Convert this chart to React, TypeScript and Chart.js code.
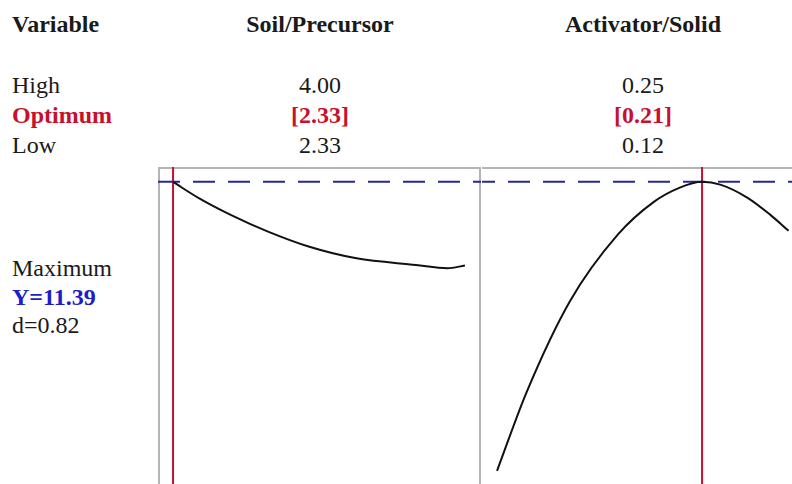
import React, { useEffect, useRef } from "react";
import { Chart, registerables } from "chart.js";

Chart.register(...registerables);

// Response optimizer: Soil/Precursor and Activator/Solid
const variables = ["Soil/Precursor", "Activator/Solid"];
const highLabels = ["4.00", "0.25"];
const optimumLabels = ["[2.33]", "[0.21]"];
const lowLabels = ["2.33", "0.12"];

const soilOptimum = 2.33;
const activatorOptimum = 0.21;
const maxResponse = 11.39;
const desirability = 0.82;

// predicted response along each factor, the other held at its optimum
const soilX = [2.33, 2.48, 2.66, 2.87, 3.11, 3.38, 3.72, 3.9, 4.0];
const soilY = [11.39, 11.09, 10.79, 10.49, 10.21, 10.0, 9.88, 9.82, 9.87];

const activatorX = [0.12, 0.133, 0.152, 0.173, 0.189, 0.2, 0.21, 0.218, 0.23, 0.24, 0.248];
const activatorY = [6.14, 7.57, 9.22, 10.43, 11.03, 11.28, 11.39, 11.34, 11.1, 10.79, 10.5];

// axis ranges of the two panels (shared response axis)
const soilRange = [2.244, 4.092];
const activatorRange = [0.1134, 0.2552];
const responseRange = [5.9, 11.66];

const RED = "#c8102e";
const BLUE = "#1c1cc8";
const INK = "#1a1a1a";

const panelGuides = {
  id: "panelGuides",
  beforeDatasetsDraw(chart: any, _args: any, opts: any) {
    const { ctx, chartArea } = chart;
    const xs = chart.scales.x;
    const ys = chart.scales.y;
    ctx.save();
    // frame
    ctx.strokeStyle = "#b4b4b4";
    ctx.lineWidth = 2;
    ctx.beginPath();
    if (opts.leftEdge) {
      ctx.moveTo(chartArea.left + 1, chartArea.bottom + 5);
      ctx.lineTo(chartArea.left + 1, chartArea.top + 1);
    } else {
      ctx.moveTo(chartArea.left, chartArea.top + 1);
    }
    ctx.lineTo(chartArea.right - 1, chartArea.top + 1);
    ctx.lineTo(chartArea.right - 1, chartArea.bottom + 5);
    ctx.stroke();
    // optimum setting
    const px = xs.getPixelForValue(opts.optimum);
    ctx.strokeStyle = RED;
    ctx.lineWidth = 2;
    ctx.beginPath();
    ctx.moveTo(px, chartArea.top);
    ctx.lineTo(px, chartArea.bottom);
    ctx.stroke();
    // optimal response
    const py = ys.getPixelForValue(opts.response);
    ctx.strokeStyle = "#27279b";
    ctx.lineWidth = 2;
    ctx.setLineDash([22, 13]);
    ctx.lineDashOffset = opts.dashOffset || 0;
    ctx.beginPath();
    ctx.moveTo(chartArea.left, py);
    ctx.lineTo(chartArea.right, py);
    ctx.stroke();
    ctx.restore();
  },
};

function Panel(props: {
  xs: number[];
  ys: number[];
  range: number[];
  optimum: number;
  dashOffset: number;
  left: number;
  leftEdge: boolean;
}) {
  const ref = useRef<HTMLCanvasElement>(null);
  useEffect(() => {
    if (!ref.current) return;
    const chart = new Chart(ref.current, {
      type: "line",
      data: {
        datasets: [
          {
            data: props.xs.map((x, i) => ({ x, y: props.ys[i] })),
            borderColor: "#111111",
            borderWidth: 2,
            pointRadius: 0,
            cubicInterpolationMode: "monotone",
            fill: false,
          },
        ],
      },
      options: {
        responsive: false,
        animation: false,
        events: [],
        layout: { padding: 0 },
        scales: {
          x: { type: "linear", min: props.range[0], max: props.range[1], display: false },
          y: { type: "linear", min: responseRange[0], max: responseRange[1], display: false },
        },
        plugins: {
          legend: { display: false },
          tooltip: { enabled: false },
          panelGuides: {
            optimum: props.optimum,
            response: maxResponse,
            dashOffset: props.dashOffset,
            leftEdge: props.leftEdge,
          },
        } as any,
      },
      plugins: [panelGuides],
    });
    return () => chart.destroy();
  }, []);
  return (
    <canvas
      ref={ref}
      width={323}
      height={317}
      style={{ position: "absolute", left: props.left, top: 167, width: 323, height: 317 }}
    />
  );
}

const serif = "'Liberation Serif', 'Times New Roman', serif";

function Label(props: {
  text: string;
  left?: number;
  center?: number;
  top: number;
  color?: string;
  bold?: boolean;
}) {
  const style: React.CSSProperties = {
    position: "absolute",
    top: props.top,
    fontFamily: serif,
    fontSize: 24,
    lineHeight: "24px",
    whiteSpace: "nowrap",
    color: props.color || INK,
    fontWeight: props.bold ? 700 : 400,
  };
  if (props.center !== undefined) {
    style.left = props.center - 150;
    style.width = 300;
    style.textAlign = "center";
  } else {
    style.left = props.left;
  }
  return <div style={style}>{props.text}</div>;
}

export default function App() {
  const centers = [320, 643];
  return (
    <div
      style={{
        position: "absolute",
        left: 0,
        top: 0,
        width: 792,
        height: 484,
        overflow: "hidden",
        background: "#ffffff",
      }}
    >
      <Label text="Variable" left={12} top={12} bold />
      <Label text="High" left={12} top={73} />
      <Label text="Optimum" left={12} top={103} bold color={RED} />
      <Label text="Low" left={12} top={133} />
      {variables.map((v, i) => (
        <React.Fragment key={v}>
          <Label text={v} center={centers[i]} top={12} bold />
          <Label text={highLabels[i]} center={centers[i]} top={73} />
          <Label text={optimumLabels[i]} center={centers[i]} top={103} bold color={RED} />
          <Label text={lowLabels[i]} center={centers[i]} top={133} />
        </React.Fragment>
      ))}
      <Label text="Maximum" left={12} top={256} />
      <Label text={"Y=" + maxResponse.toFixed(2)} left={12} top={285} bold color={BLUE} />
      <Label text={"d=" + desirability.toFixed(2)} left={12} top={313} />
      <Panel
        xs={soilX}
        ys={soilY}
        range={soilRange}
        optimum={soilOptimum}
        dashOffset={0}
        left={158}
        leftEdge={true}
      />
      <Panel
        xs={activatorX}
        ys={activatorY}
        range={activatorRange}
        optimum={activatorOptimum}
        dashOffset={324 % 35}
        left={482}
        leftEdge={false}
      />
    </div>
  );
}
